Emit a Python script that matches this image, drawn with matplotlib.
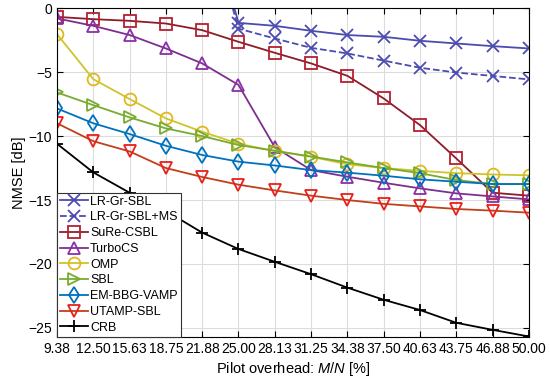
import numpy as np
import matplotlib.pyplot as plt

plt.rcParams['font.family'] = ['Liberation Sans', 'DejaVu Sans']
plt.rcParams['mathtext.fontset'] = 'custom'
plt.rcParams['mathtext.rm'] = 'Liberation Sans'
plt.rcParams['mathtext.it'] = 'Liberation Sans:italic'

# x categories (pilot overhead in %)
x_labels = ["9.38", "12.50", "15.63", "18.75", "21.88", "25.00", "28.13",
            "31.25", "34.38", "37.50", "40.63", "43.75", "46.88", "50.00"]

nan = np.nan
lr_gr_sbl = [nan, nan, nan, nan, 9.0, -1.15, -1.38, -1.77, -2.1, -2.24, -2.55, -2.76, -2.97, -3.15]
lr_gr_sbl_ms = [nan, nan, nan, nan, 8.5, -1.6, -2.37, -3.1, -3.54, -4.1, -4.66, -5.03, -5.3, -5.57]
sure_csbl = [-0.68, -0.86, -0.99, -1.2, -1.72, -2.63, -3.49, -4.32, -5.29, -7.06, -9.14, -11.75, -14.43, -14.66]
turbocs = [-0.8, -1.38, -2.1, -3.15, -4.32, -6.0, -10.87, -12.66, -13.18, -13.65, -14.09, -14.48, -14.72, -14.95]
omp = [-2.03, -5.55, -7.1, -8.62, -9.66, -10.6, -11.17, -11.62, -12.2, -12.5, -12.72, -12.9, -13.0, -13.07]
sbl = [-6.59, -7.58, -8.54, -9.4, -10.0, -10.7, -11.15, -11.6, -12.06, -12.5, -12.9, -13.44, -13.75, -13.75]
em_bbg_vamp = [-7.84, -9.0, -9.84, -10.76, -11.48, -12.0, -12.3, -12.66, -12.86, -13.1, -13.38, -13.57, -13.75, -13.75]
utamp_sbl = [-9.0, -10.4, -11.2, -12.5, -13.2, -13.8, -14.25, -14.66, -15.0, -15.3, -15.5, -15.7, -15.83, -15.99]
crb = [-10.6, -12.84, -14.43, -15.85, -17.55, -18.83, -19.83, -20.8, -21.85, -22.8, -23.6, -24.6, -25.15, -25.67]

x = np.arange(len(x_labels))

fig = plt.figure(figsize=(5.5, 3.89), dpi=100)
ax = fig.add_axes([0.1036, 0.134, 0.858, 0.845])

lw = 1.3
ms = 8.5
series = [
    (lr_gr_sbl, "LR-Gr-SBL", '-', 'x', '#4b4bb0', '#4b4bb0'),
    (lr_gr_sbl_ms, "LR-Gr-SBL+MS", '--', 'x', '#4b4bb0', '#4b4bb0'),
    (sure_csbl, "SuRe-CSBL", '-', 's', '#8c1c2c', '#b52030'),
    (turbocs, "TurboCS", '-', '^', '#7e2f8e', '#8a2fa8'),
    (omp, "OMP", '-', 'o', '#cfc42a', '#e0b820'),
    (sbl, "SBL", '-', '>', '#77ac30', '#77ac30'),
    (em_bbg_vamp, "EM-BBG-VAMP", '-', 'd', '#0072bd', '#0072bd'),
    (utamp_sbl, "UTAMP-SBL", '-', 'v', '#c0401a', '#e8201a'),
    (crb, "CRB", '-', '+', 'black', 'black'),
]
for vals, name, ls, mk, lc, mc in series:
    ax.plot(x, vals, linestyle=ls, marker=mk, color=lc, markeredgecolor=mc,
            markerfacecolor='none', markersize=ms, markeredgewidth=1.3,
            linewidth=lw, label=name)

ax.set_xlim(0, len(x_labels) - 1)
ax.set_ylim(-25.7, 0)
ax.set_xticks(x)
ax.set_xticklabels(x_labels)
ax.set_yticks([0, -5, -10, -15, -20, -25])
ax.tick_params(direction='in', top=True, right=True, labelsize=10, length=4)
ax.grid(True, color='#dcdcdc', linewidth=0.8)
ax.set_axisbelow(True)

ax.set_xlabel(r"Pilot overhead: $\it{M/N}$ [%]", fontsize=10.5, labelpad=3)
ax.set_ylabel("NMSE [dB]", fontsize=10.5, labelpad=2)

leg = ax.legend(loc='lower left', fontsize=9, borderaxespad=0, frameon=True,
                fancybox=False, edgecolor='#333333', framealpha=1,
                labelspacing=0.3, handlelength=2.2, handletextpad=0.2,
                borderpad=0.25)
leg.get_frame().set_linewidth(0.8)

fig.savefig("out.png", dpi=100)
